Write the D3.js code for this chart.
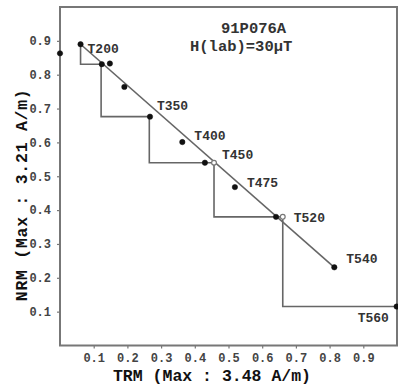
<!DOCTYPE html>
<html>
<head>
<meta charset="utf-8">
<script src="https://cdn.jsdelivr.net/npm/d3@7"></script>
<style>
  html, body { margin: 0; padding: 0; background: #fff; }
  svg { display: block; }
  text { font-family: "Liberation Mono", "DejaVu Sans Mono", monospace; font-weight: bold; }
</style>
</head>
<body>
<svg id="chart" width="398" height="387"></svg>
<script>
// Arai diagram: NRM remaining vs pTRM gained (normalised values)
const specimen = "91P076A";
const labField = "H(lab)=30\u00B5T";
const xTitle = "TRM (Max : 3.48 A/m)";
const yTitle = "NRM (Max : 3.21 A/m)";

const xTicks = [0.1, 0.2, 0.3, 0.4, 0.5, 0.6, 0.7, 0.8, 0.9];
const yTicks = [0.1, 0.2, 0.3, 0.4, 0.5, 0.6, 0.7, 0.8, 0.9];

// measured steps: TRM fraction, NRM fraction
const trmValues = [0.000, 0.061, 0.124, 0.148, 0.191, 0.267, 0.363, 0.430, 0.457, 0.519, 0.641, 0.661, 0.814, 0.999];
const nrmValues = [0.863, 0.890, 0.831, 0.833, 0.764, 0.676, 0.601, 0.540, 0.540, 0.468, 0.380, 0.380, 0.231, 0.115];
const stepLabels = ["", "T200", "", "", "", "T350", "T400", "", "T450", "T475", "", "T520", "T540", "T560"];
const checkStep = [false, false, false, false, false, false, false, false, true, false, false, true, false, false];

// pTRM check staircase
const stairTrm = [0.061, 0.061, 0.122, 0.122, 0.265, 0.265, 0.457, 0.457, 0.661, 0.661, 1.000];
const stairNrm = [0.890, 0.831, 0.831, 0.676, 0.676, 0.540, 0.540, 0.380, 0.380, 0.115, 0.115];

// best-fit segment endpoints
const fitTrm = [0.061, 0.814];
const fitNrm = [0.890, 0.231];

const svg = d3.select("#chart");
const x = d3.scaleLinear().domain([0, 1]).range([60, 397]);
const y = d3.scaleLinear().domain([0, 1]).range([345.5, 7]);

// label placement relative to its point (pixels)
const labelOffset = {
  T200: [7, 5], T350: [7, -10], T400: [12, -6], T450: [8, -7.5],
  T475: [12, -4], T520: [11, 2], T540: [12, -8], T560: [-39, 12]
};

const fmt = d3.format(".1f");
const xAxis = svg.append("g")
  .attr("transform", `translate(0,${y(0)})`)
  .call(d3.axisBottom(x).tickValues(xTicks).tickSize(3).tickPadding(5).tickFormat(fmt));
const yAxis = svg.append("g")
  .attr("transform", `translate(${x(0)},0)`)
  .call(d3.axisLeft(y).tickValues(yTicks).tickSize(3).tickPadding(6).tickFormat(fmt));
[xAxis, yAxis].forEach(g => {
  g.select(".domain").remove();
  g.selectAll(".tick line").attr("stroke", "#777").attr("stroke-width", 1.2);
  g.selectAll(".tick text")
    .attr("fill", "#444")
    .style("font-size", "12px")
    .style("font-family", "'Liberation Mono', monospace")
    .style("font-weight", "bold");
});

// frame
svg.append("rect")
  .attr("x", x(0)).attr("y", y(1))
  .attr("width", x(1) - x(0)).attr("height", y(0) - y(1))
  .attr("fill", "none").attr("stroke", "#777").attr("stroke-width", 2);

// staircase
const stairPts = stairTrm.map((t, i) => [t, stairNrm[i]]);
svg.append("path")
  .attr("d", d3.line().x(d => x(d[0])).y(d => y(d[1]))(stairPts))
  .attr("fill", "none").attr("stroke", "#666").attr("stroke-width", 1.6);

// fit line
svg.append("line")
  .attr("x1", x(fitTrm[0])).attr("y1", y(fitNrm[0]))
  .attr("x2", x(fitTrm[1])).attr("y2", y(fitNrm[1]))
  .attr("stroke", "#666").attr("stroke-width", 1.6);

// points
const pts = trmValues.map((t, i) => ({ t, n: nrmValues[i], label: stepLabels[i], check: checkStep[i] }));
svg.append("g").selectAll("circle").data(pts).join("circle")
  .attr("cx", d => x(d.t)).attr("cy", d => y(d.n))
  .attr("r", d => d.check ? 2.4 : 2.7)
  .attr("fill", d => d.check ? "#fff" : "#111")
  .attr("stroke", d => d.check ? "#777" : "#111")
  .attr("stroke-width", d => d.check ? 1.2 : 0.5);

// step labels
svg.append("g").selectAll("text").data(pts.filter(d => d.label)).join("text")
  .attr("x", d => x(d.t) + labelOffset[d.label][0])
  .attr("y", d => y(d.n) + labelOffset[d.label][1])
  .attr("dominant-baseline", "central")
  .attr("fill", "#333")
  .style("font-size", "13px")
  .text(d => d.label);

// specimen header
svg.append("text").attr("x", 221).attr("y", 33)
  .attr("fill", "#333").style("font-size", "15.5px").text(specimen);
svg.append("text").attr("x", 190).attr("y", 51)
  .attr("fill", "#333").style("font-size", "15.5px").text(labField);

// axis titles
svg.append("text").attr("x", 212).attr("y", 381)
  .attr("text-anchor", "middle").attr("fill", "#111")
  .style("font-size", "16.5px").text(xTitle);
svg.append("text")
  .attr("transform", `translate(27,${(y(0) + y(1)) / 2 + 19}) rotate(-90)`)
  .attr("text-anchor", "middle").attr("fill", "#111")
  .attr("textLength", 212).attr("lengthAdjust", "spacing")
  .style("font-size", "16.5px").text(yTitle);
</script>
</body>
</html>
